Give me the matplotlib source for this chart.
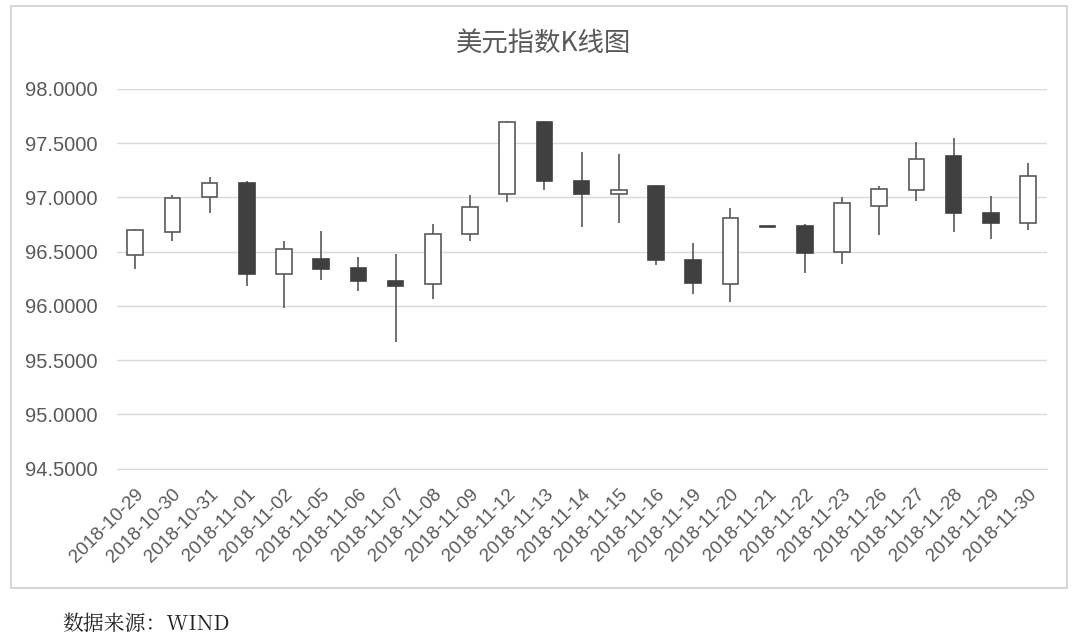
import matplotlib.pyplot as plt
import numpy as np
from matplotlib.patches import Rectangle

plt.rcParams['font.family'] = ['Liberation Sans', 'Noto Sans CJK SC', 'DejaVu Sans']

# Daily dollar index candles
dates = ["2018-10-29", "2018-10-30", "2018-10-31", "2018-11-01", "2018-11-02",
         "2018-11-05", "2018-11-06", "2018-11-07", "2018-11-08", "2018-11-09",
         "2018-11-12", "2018-11-13", "2018-11-14", "2018-11-15", "2018-11-16",
         "2018-11-19", "2018-11-20", "2018-11-21", "2018-11-22", "2018-11-23",
         "2018-11-26", "2018-11-27", "2018-11-28", "2018-11-29", "2018-11-30"]
opens = [96.47, 96.68, 97.00, 97.13, 96.29, 96.43, 96.35, 96.23, 96.20, 96.66,
         97.03, 97.69, 97.15, 97.03, 97.10, 96.42, 96.20, 96.735, 96.74, 96.50,
         96.92, 97.07, 97.38, 96.86, 96.76]
closes = [96.70, 96.99, 97.13, 96.29, 96.52, 96.34, 96.23, 96.18, 96.66, 96.91,
          97.69, 97.15, 97.03, 97.07, 96.42, 96.21, 96.81, 96.73, 96.49, 96.95,
          97.08, 97.35, 96.86, 96.76, 97.20]
highs = [96.71, 97.02, 97.19, 97.15, 96.60, 96.69, 96.45, 96.48, 96.75, 97.02,
         97.70, 97.70, 97.42, 97.40, 97.11, 96.58, 96.90, 96.74, 96.75, 97.00,
         97.10, 97.51, 97.55, 97.01, 97.32]
lows = [96.34, 96.60, 96.86, 96.18, 95.98, 96.24, 96.14, 95.67, 96.06, 96.60,
        96.96, 97.07, 96.73, 96.76, 96.38, 96.11, 96.04, 96.725, 96.30, 96.39,
        96.65, 96.97, 96.68, 96.62, 96.70]
y_ticks = [94.5, 95.0, 95.5, 96.0, 96.5, 97.0, 97.5, 98.0]

text_gray = "#595959"
dark_fill = "#404040"

fig = plt.figure(figsize=(10.8, 6.43), dpi=100)
ax = fig.add_axes([0.108, 0.271, 0.861, 0.591])

x = np.arange(len(dates))
o = np.array(opens)
c = np.array(closes)
up = c >= o

# Wicks first, bodies on top
ax.vlines(x, lows, highs, color=text_gray, linewidth=1.2, zorder=2)
body_bottom = np.minimum(o, c)
body_height = np.maximum(np.abs(c - o), 0.008)
ax.bar(x[up], body_height[up], bottom=body_bottom[up], width=0.42,
       facecolor="white", edgecolor=text_gray, linewidth=1.2, zorder=3)
ax.bar(x[~up], body_height[~up], bottom=body_bottom[~up], width=0.42,
       facecolor=dark_fill, edgecolor=dark_fill, linewidth=1.2, zorder=3)

ax.set_xlim(-0.5, len(dates) - 0.5)
ax.set_ylim(94.5, 98.0)
ax.set_yticks(y_ticks)
ax.set_yticklabels([f"{v:.4f}" for v in y_ticks], fontsize=14.5, color=text_gray)
ax.set_xticks(x)
ax.set_xticklabels(dates, rotation=45, ha="right", rotation_mode="anchor",
                   fontsize=13.5, color=text_gray)
ax.tick_params(axis="y", length=0, pad=14)
ax.tick_params(axis="x", length=0, pad=12)
ax.grid(axis="y", color="#d9d9d9", linewidth=1)
ax.set_axisbelow(True)
for side in ["top", "right", "left"]:
    ax.spines[side].set_visible(False)
ax.spines["bottom"].set_color("#d9d9d9")

fig.text(0.503, 0.932, "美元指数K线图", ha="center", va="center", fontsize=19,
         color=text_gray, family=["Noto Sans CJK SC", "DejaVu Sans"])

# Light frame round the chart area
fig.patches.append(Rectangle((0.0102, 0.086), 0.978, 0.905, transform=fig.transFigure,
                             fill=False, edgecolor="#d0d0d0", linewidth=1.2))

fig.text(0.058, 0.03, "数据来源：WIND", ha="left", va="center", fontsize=15,
         color="#222222", family=["Noto Serif CJK SC", "Liberation Serif", "Noto Sans CJK SC"])

fig.savefig("out.png", dpi=100)
